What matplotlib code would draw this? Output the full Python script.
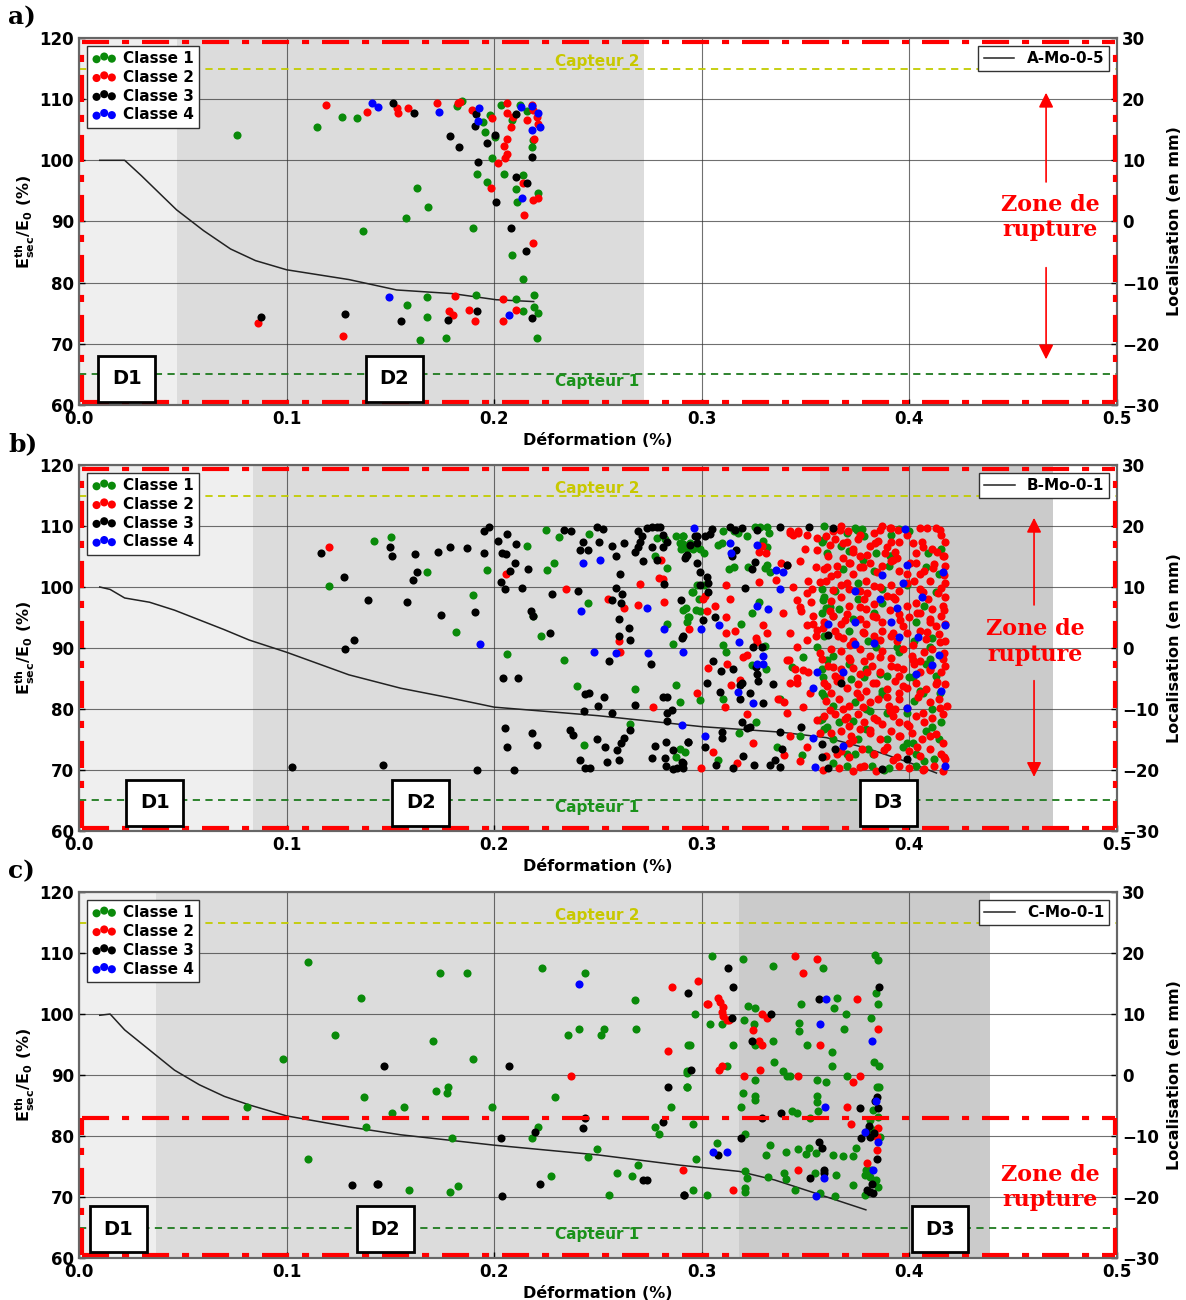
import numpy as np
import matplotlib
matplotlib.use('Agg')
import matplotlib.pyplot as plt

# ---------------- data : E_sec/E0 curves (left axis, %) ----------------
a_curve_x = [0.01, 0.022, 0.03, 0.04, 0.047, 0.06, 0.073, 0.085, 0.1, 0.13, 0.153, 0.18, 0.201, 0.219]
a_curve_y = [100, 100, 97.5, 94.2, 91.9, 88.5, 85.5, 83.6, 82.1, 80.5, 78.8, 78.2, 77.2, 76.9]
b_curve_x = [0.01, 0.015, 0.022, 0.034, 0.046, 0.058, 0.07, 0.082, 0.1, 0.13, 0.155, 0.179, 0.2, 0.25,
             0.3, 0.338, 0.36, 0.38, 0.4, 0.413]
b_curve_y = [100, 99.6, 98.2, 97.5, 96.2, 94.6, 93, 91.3, 89.3, 85.6, 83.4, 81.8, 80.3, 78.9,
             77.1, 76.2, 75.3, 73.5, 71.2, 69.5]
c_curve_x = [0.01, 0.015, 0.022, 0.034, 0.046, 0.058, 0.07, 0.082, 0.1, 0.13, 0.155, 0.2, 0.25,
             0.29, 0.318, 0.335, 0.354, 0.379]
c_curve_y = [99.8, 100, 97.4, 94.1, 90.8, 88.4, 86.5, 85.1, 83.3, 81.5, 80.2, 78.5, 76.9,
             75.2, 74.2, 72.8, 70.7, 67.9]

# ---------------- data : AE events (deformation %, localisation mm) ----------------
a_c1 = [(0.076, 14.2), (0.1145, 15.5), (0.1265, 17.0), (0.1337, 16.9), (0.1627, 5.4), (0.1683, 2.3),
        (0.1575, 0.6), (0.137, -1.6), (0.1896, -1.0), (0.1675, -12.3), (0.158, -13.7), (0.1675, -15.7),
        (0.1642, -19.4), (0.1768, -19.1), (0.191, -12.0), (0.182, 18.9), (0.1843, 19.7), (0.1915, 7.8),
        (0.1964, 6.4), (0.1988, 10.3), (0.2031, 19.0), (0.1944, 16.2), (0.1956, 14.7), (0.2004, 13.8),
        (0.198, 17.4), (0.2049, 7.7), (0.2084, -5.5), (0.2137, -9.4), (0.2105, 5.3), (0.214, 7.6),
        (0.2108, 3.2), (0.2181, 12.1), (0.2191, -12.0), (0.2105, -12.6), (0.214, -14.6), (0.2191, -14.0),
        (0.2212, -15.0), (0.2204, -19.0), (0.2212, 4.6), (0.2124, 19.0), (0.2084, 16.6), (0.2156, 18.0),
        (0.2188, 13.3)]
a_c2 = [(0.119, 19.0), (0.1385, 17.9), (0.1274, -18.7), (0.0861, -16.6), (0.153, 18.6), (0.1538, 17.8),
        (0.1586, 18.6), (0.1726, 19.3), (0.1827, 19.4), (0.1835, 19.6), (0.1894, 18.3), (0.1988, 16.9),
        (0.2017, 9.5), (0.2052, 10.3), (0.206, 11.0), (0.2049, 12.4), (0.206, 13.4), (0.208, 15.5),
        (0.2063, 17.7), (0.206, 19.4), (0.2092, 17.0), (0.2156, 16.6), (0.2188, 18.2), (0.2204, 17.1),
        (0.2212, 16.0), (0.2181, 19.0), (0.2191, 13.4), (0.1983, 5.5), (0.2137, 6.3), (0.2188, 3.5),
        (0.2212, 3.8), (0.2145, 1.1), (0.2188, -3.6), (0.2044, -12.7), (0.2105, -14.5), (0.2041, -16.2),
        (0.1907, -16.3), (0.188, -14.5), (0.1811, -12.2), (0.1784, -14.7), (0.1803, -15.3)]
a_c3 = [(0.1514, 19.4), (0.1615, 17.8), (0.1912, 17.5), (0.1908, 15.6), (0.1787, 13.9), (0.1832, 12.2),
        (0.192, 9.8), (0.1964, 12.9), (0.2004, 14.2), (0.2105, 17.6), (0.2181, 10.6), (0.2105, 7.2),
        (0.2156, 6.3), (0.2009, 3.2), (0.208, -1.0), (0.2151, -4.9), (0.0875, -15.7), (0.1282, -15.2),
        (0.1551, -16.3), (0.1779, -16.1), (0.1917, -14.6), (0.2181, -15.8)]
a_c4 = [(0.141, 19.3), (0.1442, 18.7), (0.1736, 17.9), (0.1928, 18.5), (0.192, 16.5), (0.2128, 18.7),
        (0.2181, 18.9), (0.2212, 17.8), (0.2181, 15.0), (0.222, 15.5), (0.2132, 3.8), (0.2073, -15.3),
        (0.1494, -12.3)]

b_c1 = [(0.1206, 10.1), (0.142, 17.5), (0.1503, 18.2), (0.1678, 12.5), (0.1814, 2.7), (0.1899, 8.7),
        (0.1965, 12.8), (0.206, -1.0), (0.216, 16.8), (0.2248, 19.3), (0.2314, 18.2), (0.229, 14.0),
        (0.2253, 12.8), (0.2454, 7.4), (0.2458, 18.7), (0.2338, -2.0), (0.2188, 5.2), (0.2224, 1.9),
        (0.24, -6.2), (0.243, -15.9), (0.2655, -12.4), (0.2679, -6.7), (0.2783, 18.1), (0.2823, 17.8),
        (0.2775, 15.1), (0.2831, 13.1), (0.2874, 18.4), (0.2908, 18.4), (0.2894, 17.2), (0.2899, 16.2),
        (0.2959, 16.9), (0.2927, 16.2), (0.2978, 10.3), (0.2956, 9.1), (0.2924, 6.5), (0.294, 5.1),
        (0.2972, 6.2), (0.2927, 4.2), (0.2863, 0.7), (0.2831, 4.0), (0.2876, -6.1), (0.2895, -8.8),
        (0.2876, -17.8), (0.2895, -16.6), (0.2919, -17.1),
        (0.2911, 18.4), (0.2908, 17.0), (0.2943, 17.2), (0.2959, 16.3), (0.2991, 16.3), (0.3011, 15.6),
        (0.3101, 19.2), (0.3096, 17.2), (0.3077, 16.9), (0.3155, 19.2), (0.3176, 18.9), (0.3216, 18.3),
        (0.3256, 19.9), (0.328, 19.8), (0.3312, 19.9), (0.3325, 18.8), (0.3296, 17.6), (0.3316, 16.6),
        (0.3155, 13.3), (0.3133, 12.9), (0.3224, 13.3), (0.3304, 13.1), (0.3316, 13.6), (0.3329, 12.5),
        (0.2911, 6.2), (0.2935, 5.1), (0.2991, 6.0), (0.2988, 8.0), (0.2951, 9.2), (0.3011, 10.3),
        (0.3189, 4.0), (0.324, 5.7), (0.3277, 7.6), (0.3101, 0.5), (0.3117, -0.6), (0.3304, 0.3),
        (0.324, -2.8), (0.3309, -3.5), (0.3489, -1.4), (0.3433, -3.1), (0.3377, -8.4), (0.3101, -8.4),
        (0.3181, -13.9), (0.3261, -12.1), (0.3361, -16.3), (0.2991, -8.5), (0.3481, -17.5), (0.308, -18.3),
        # dense block
        (0.359, 20.0), (0.374, 19.7), (0.377, 19.5), (0.378, 18.4), (0.391, 18.6), (0.395, 19.5), (0.400, 19.2),
        (0.358, 17.3), (0.367, 16.7), (0.371, 15.9), (0.384, 15.6), (0.391, 15.1), (0.409, 15.6), (0.415, 16.2),
        (0.368, 12.9), (0.383, 12.6), (0.390, 13.4), (0.408, 13.2), (0.414, 12.1),
        (0.358, 9.6), (0.364, 9.4), (0.375, 10.7), (0.387, 9.6), (0.399, 10.4), (0.413, 9.1),
        (0.359, 8.3), (0.360, 6.6), (0.366, 6.4), (0.375, 8.0), (0.387, 7.4), (0.407, 6.9),
        (0.358, 5.8), (0.373, 4.7), (0.383, 5.8), (0.403, 4.2),
        (0.359, 2.0), (0.371, 2.8), (0.380, 1.2), (0.402, 1.2), (0.411, 1.7),
        (0.363, -1.3), (0.384, 0.1), (0.395, -0.7), (0.410, -1.8),
        (0.358, -3.5), (0.371, -2.7), (0.379, -3.5), (0.389, -4.6), (0.408, -2.7), (0.413, -4.6),
        (0.358, -7.3), (0.372, -5.1), (0.378, -4.8), (0.387, -7.0), (0.400, -4.8), (0.405, -7.0),
        (0.359, -7.8), (0.363, -9.5), (0.374, -8.9), (0.379, -10.0), (0.387, -7.6), (0.402, -8.7), (0.411, -10.0),
        (0.358, -11.7), (0.366, -12.2), (0.373, -11.9), (0.381, -10.3), (0.389, -10.6), (0.399, -10.6),
        (0.411, -13.0), (0.415, -12.2),
        (0.359, -13.3), (0.363, -15.0), (0.375, -15.0), (0.379, -13.3), (0.389, -15.0), (0.399, -15.5),
        (0.408, -13.6), (0.414, -15.0),
        (0.363, -18.8), (0.374, -17.4), (0.380, -16.6), (0.397, -16.3), (0.403, -17.4), (0.407, -18.5),
        (0.412, -18.2), (0.370, -19.3), (0.382, -19.3), (0.403, -19.3), (0.390, -19.6),
        (0.3585, 17.7), (0.3601, 15.5), (0.3585, 7.9), (0.3618, 6.8), (0.3634, 5.2), (0.3553, 0.2),
        (0.3601, -2.0), (0.3585, -4.7), (0.3569, -11.8), (0.3601, -12.9), (0.3473, -14.5), (0.3698, 18.8),
        (0.3746, 19.3), (0.3778, 14.4), (0.3907, 15.0), (0.3939, 0.2), (0.3859, -4.2), (0.4019, -4.7),
        (0.4067, -7.4), (0.4099, 0.2), (0.4148, -7.4), (0.3698, -17.3), (0.3826, -17.3), (0.3875, -20.0),
        (0.4019, -15.6)]
b_c2 = [(0.1205, 16.6), (0.2056, 12.2), (0.2346, 9.6), (0.2547, 8.0), (0.2627, 6.5), (0.2603, 1.1),
        (0.2606, -0.6), (0.2764, -9.6), (0.2804, 14.4), (0.2796, 11.5), (0.2812, 11.3), (0.27, 10.5),
        (0.2694, 7.0), (0.2818, 7.6), (0.294, 3.1), (0.2975, -7.4),
        (0.3277, 15.8), (0.3309, 15.5), (0.3288, 16.7), (0.3379, 13.9), (0.3357, 11.1), (0.3277, 10.8),
        (0.3117, 10.3), (0.3136, 8.1), (0.3457, 7.8), (0.3476, 6.1), (0.3525, 7.6), (0.351, 11.0),
        (0.3532, 9.7), (0.355, 13.3), (0.3016, 8.5), (0.3007, 8.0), (0.3064, 6.9), (0.3024, 6.1),
        (0.3117, 5.1), (0.3117, 2.5), (0.316, 2.8), (0.3294, 3.8), (0.3316, 2.5), (0.3261, 1.7),
        (0.3268, 1.0), (0.3197, -1.4), (0.3216, -1.1), (0.3032, -3.2), (0.312, -2.6), (0.3139, -6.1),
        (0.3184, -5.2), (0.3422, -1.9), (0.3449, -3.5), (0.346, 0.1), (0.3513, -3.9), (0.3505, 3.8),
        (0.3534, 4.0), (0.3553, 2.9), (0.355, 1.9), (0.3425, -5.7), (0.3457, -5.7), (0.3398, -8.9),
        (0.3369, -8.4), (0.3216, -10.8), (0.3112, -9.6), (0.3245, -15.6), (0.3056, -17.1), (0.2995, -19.7),
        (0.3171, -18.9), (0.3396, -17.5), (0.3425, 18.8), (0.3465, 18.9), (0.3441, 18.5), (0.3553, 18.0),
        # dense block
        (0.367, 20.0), (0.375, 17.8), (0.383, 18.9), (0.387, 20.0), (0.391, 19.7), (0.391, 17.3), (0.399, 18.6),
        (0.405, 19.7), (0.413, 19.7), (0.415, 18.6), (0.417, 17.3), (0.406, 17.3),
        (0.360, 18.4), (0.364, 17.8), (0.370, 17.3), (0.373, 16.2), (0.381, 16.7), (0.385, 17.5), (0.388, 15.6),
        (0.395, 17.3), (0.394, 14.8), (0.403, 15.6), (0.411, 16.2), (0.416, 15.1), (0.361, 15.1), (0.368, 14.8),
        (0.376, 15.1),
        (0.359, 12.9), (0.365, 13.4), (0.371, 14.0), (0.376, 13.2), (0.381, 14.0), (0.387, 13.4), (0.391, 14.3),
        (0.395, 12.6), (0.403, 14.0), (0.407, 12.6), (0.412, 13.7), (0.417, 13.4), (0.362, 11.8), (0.373, 12.1),
        (0.399, 12.1),
        (0.360, 11.0), (0.367, 10.4), (0.371, 9.6), (0.379, 11.0), (0.383, 10.2), (0.391, 10.4), (0.402, 11.0),
        (0.410, 11.0), (0.415, 9.9), (0.417, 10.7), (0.376, 9.4), (0.395, 9.4), (0.405, 9.6),
        (0.362, 7.7), (0.367, 8.3), (0.371, 6.9), (0.378, 8.0), (0.383, 7.2), (0.389, 8.5), (0.393, 8.0),
        (0.399, 6.9), (0.403, 7.4), (0.409, 8.0), (0.417, 8.3), (0.416, 6.9), (0.379, 6.4), (0.411, 6.4),
        (0.363, 5.3), (0.370, 5.5), (0.376, 4.7), (0.379, 3.9), (0.384, 5.0), (0.387, 4.2), (0.395, 5.5),
        (0.400, 5.0), (0.405, 5.8), (0.410, 4.7), (0.415, 5.3), (0.417, 3.9), (0.359, 4.2), (0.367, 3.9),
        (0.397, 3.6), (0.413, 3.6),
        (0.364, 2.8), (0.368, 1.7), (0.378, 2.5), (0.383, 2.0), (0.387, 2.8), (0.391, 2.0), (0.399, 2.5),
        (0.405, 2.8), (0.408, 1.4), (0.414, 2.3), (0.417, 1.2), (0.373, 1.2), (0.394, 1.2),
        (0.362, -0.2), (0.367, -0.5), (0.371, -1.6), (0.376, -0.2), (0.381, -1.3), (0.387, -0.5), (0.391, -1.6),
        (0.397, -0.2), (0.401, -1.3), (0.407, -0.7), (0.411, -0.2), (0.416, -1.8), (0.358, -1.8), (0.378, -2.1),
        (0.405, -2.1),
        (0.361, -2.9), (0.367, -3.5), (0.373, -3.2), (0.376, -4.3), (0.382, -2.9), (0.386, -4.0), (0.391, -2.9),
        (0.397, -3.5), (0.402, -2.7), (0.405, -4.0), (0.410, -3.5), (0.415, -4.0), (0.417, -2.9), (0.364, -4.6),
        (0.395, -4.6),
        (0.359, -5.7), (0.365, -5.4), (0.370, -6.5), (0.375, -5.9), (0.379, -7.0), (0.384, -5.7), (0.389, -6.7),
        (0.393, -5.4), (0.399, -6.5), (0.403, -5.7), (0.408, -6.7), (0.413, -5.9), (0.417, -5.9), (0.362, -7.3),
        (0.395, -7.3),
        (0.360, -8.7), (0.366, -8.4), (0.371, -9.5), (0.376, -8.1), (0.381, -8.9), (0.385, -8.4), (0.390, -9.5),
        (0.395, -8.4), (0.399, -9.8), (0.404, -8.1), (0.410, -8.9), (0.414, -8.4), (0.418, -9.5), (0.368, -10.0),
        (0.393, -10.0),
        (0.359, -11.1), (0.364, -10.8), (0.369, -11.7), (0.375, -10.8), (0.378, -12.2), (0.383, -11.4),
        (0.387, -12.5), (0.392, -11.1), (0.395, -12.2), (0.403, -11.1), (0.407, -12.2), (0.411, -11.4),
        (0.416, -10.8), (0.371, -12.8), (0.400, -12.8),
        (0.362, -13.9), (0.367, -13.6), (0.372, -14.4), (0.376, -13.3), (0.381, -13.9), (0.386, -15.0),
        (0.391, -13.6), (0.395, -14.4), (0.401, -13.9), (0.406, -15.0), (0.413, -14.1), (0.416, -15.5),
        (0.371, -15.5),
        (0.360, -17.7), (0.367, -16.9), (0.371, -17.9), (0.377, -16.6), (0.383, -17.4), (0.389, -16.3),
        (0.394, -17.9), (0.400, -16.9), (0.405, -17.7), (0.410, -16.6), (0.415, -17.4), (0.417, -18.2),
        (0.366, -19.6), (0.378, -19.3), (0.384, -20.1), (0.395, -19.3), (0.400, -19.6), (0.407, -19.9),
        (0.412, -19.3), (0.416, -20.1), (0.373, -20.1),
        (0.3425, 19.1), (0.3465, 19.1), (0.3505, 18.5), (0.3634, 19.1), (0.3666, 19.3), (0.3706, 19.1),
        (0.3762, 18.5), (0.3859, 19.3), (0.3907, 19.6), (0.3947, 19.3), (0.4083, 19.6), (0.4148, 19.3),
        (0.3497, 16.3), (0.3553, 16.1), (0.3618, 16.9), (0.3682, 17.2), (0.3730, 15.8), (0.3794, 15.2),
        (0.3834, 17.2), (0.3891, 16.6), (0.3931, 15.8), (0.4019, 17.2), (0.4067, 16.6), (0.4131, 15.8),
        (0.4164, 15.0),
        (0.3409, 13.6), (0.3473, 14.2), (0.3601, 13.3), (0.3650, 12.2), (0.3714, 13.9), (0.3778, 13.3),
        (0.3843, 12.5), (0.3923, 14.4), (0.4003, 13.9), (0.4051, 12.2), (0.4115, 13.1), (0.4164, 12.0),
        (0.3441, 10.0), (0.3505, 9.0), (0.3569, 10.9), (0.3634, 9.5), (0.3698, 10.6), (0.3794, 9.0),
        (0.3859, 10.0), (0.3923, 8.4), (0.3987, 10.6), (0.4067, 9.2), (0.4139, 9.0),
        (0.3393, 5.7), (0.3473, 6.8), (0.3537, 5.2), (0.3618, 6.0), (0.3690, 4.6), (0.3762, 6.8),
        (0.3826, 5.2), (0.3907, 6.2), (0.3955, 4.6), (0.4035, 5.7), (0.4099, 4.3), (0.4164, 6.2),
        (0.3425, 2.4), (0.3505, 1.3), (0.3585, 3.2), (0.3658, 1.9), (0.3714, 0.5), (0.3778, 2.7),
        (0.3859, 1.3), (0.3923, 2.4), (0.4019, 0.5), (0.4083, 2.7), (0.4148, 1.0),
        (0.3409, -2.0), (0.3489, -3.6), (0.3569, -0.9), (0.3634, -3.1), (0.3714, -2.0), (0.3794, -3.9),
        (0.3859, -1.4), (0.3939, -3.1), (0.4019, -2.0), (0.4099, -3.6), (0.4164, -0.9),
        (0.3457, -5.0), (0.3521, -7.4), (0.3601, -6.3), (0.3666, -5.0), (0.3746, -7.4), (0.3826, -5.8),
        (0.3891, -8.0), (0.3971, -6.3), (0.4051, -7.4), (0.4131, -5.5),
        (0.3409, -10.7), (0.3489, -9.6), (0.3553, -11.8), (0.3618, -10.2), (0.3698, -11.3), (0.3778, -9.6),
        (0.3843, -11.8), (0.3907, -10.4), (0.3987, -12.4), (0.4067, -10.7), (0.4148, -9.9),
        (0.3425, -14.5), (0.3505, -16.2), (0.3569, -14.0), (0.3650, -17.3), (0.3730, -15.1), (0.3810, -13.4),
        (0.3875, -16.7), (0.3955, -14.5), (0.4035, -16.2), (0.4099, -14.5), (0.4164, -17.8),
        (0.3473, -18.6), (0.3585, -20.0), (0.3762, -19.5), (0.3923, -18.4), (0.4067, -20.0)]
b_c3 = [(0.1164, 15.5), (0.1277, 11.7), (0.1393, 7.9), (0.1325, 1.3), (0.128, -0.1), (0.1496, 16.6),
        (0.1509, 15.1), (0.1578, 7.5), (0.162, 15.4), (0.1628, 12.5), (0.161, 11.1), (0.1729, 15.8),
        (0.1789, 16.6), (0.187, 16.4), (0.1744, 5.4), (0.1906, 5.9), (0.1952, 15.5), (0.1952, 19.1),
        (0.1973, 19.9), (0.202, 17.6), (0.2039, 15.6), (0.2056, 15.4), (0.2033, 10.9), (0.2052, 9.7),
        (0.2063, 18.7), (0.2044, -5.0), (0.2054, -13.2), (0.2063, -16.2), (0.1028, -19.5), (0.1466, -19.2),
        (0.1915, -20.0),
        (0.2103, 17.0), (0.21, 13.9), (0.2076, 12.7), (0.2133, 9.9), (0.2161, 12.9), (0.2338, 19.3),
        (0.237, 19.2), (0.2278, 8.8), (0.2402, 9.3), (0.2426, 17.3), (0.2413, 16.0), (0.2454, 16.0),
        (0.2496, 19.8), (0.2522, 19.5), (0.2507, 17.3), (0.2569, 16.7), (0.2585, 15.1), (0.2627, 17.2),
        (0.2606, 12.2), (0.2587, 9.9), (0.2566, 7.9), (0.2614, 8.8), (0.2611, 7.3), (0.2603, 4.7),
        (0.2651, 3.3), (0.2603, 1.9), (0.2654, 1.3), (0.2553, -2.2), (0.2177, 6.0), (0.2185, 5.3),
        (0.2269, 2.4), (0.2116, -4.9), (0.2458, -7.3), (0.2437, -7.6), (0.2531, -8.1), (0.2499, -9.5),
        (0.243, -10.3), (0.2566, -10.7), (0.2183, -13.9), (0.2365, -13.5), (0.2378, -14.2), (0.2204, -15.9),
        (0.2494, -14.9), (0.2534, -16.2), (0.2413, -18.3), (0.2437, -19.6), (0.2461, -19.6), (0.2541, -18.7),
        (0.2095, -20.0), (0.2593, -16.8), (0.2601, -18.3), (0.2609, -15.5), (0.2627, -14.8), (0.2655, -13.4),
        (0.2679, -9.3), (0.2694, 19.1), (0.2711, 18.3), (0.2735, 19.6), (0.2759, 19.8), (0.2783, 19.8),
        (0.2799, 19.9), (0.2702, 17.4), (0.2691, 16.6), (0.2678, 15.8), (0.2718, 14.3), (0.2759, 16.5),
        (0.2783, 14.4), (0.2815, 18.5), (0.2831, 17.4), (0.2815, 16.6), (0.282, 10.5), (0.2925, 15.0),
        (0.2944, 16.9), (0.2976, 18.3), (0.2976, 17.2), (0.2899, 7.9), (0.2903, 1.7), (0.2754, -2.7),
        (0.2815, -8.1), (0.2831, -8.1), (0.2831, -10.6), (0.2858, -10.1), (0.2834, -12.0), (0.2775, -16.0),
        (0.2762, -18.1), (0.2826, -15.4), (0.286, -16.8), (0.2823, -18.1), (0.2828, -19.3), (0.2863, -19.8),
        (0.2879, -19.7), (0.2903, -18.7), (0.2911, -19.7), (0.2932, -15.4),
        (0.3048, 19.5), (0.304, 18.7), (0.3016, 18.3), (0.2967, 18.3), (0.2927, 15.2), (0.2919, 14.7),
        (0.3136, 19.9), (0.316, 19.3), (0.3192, 19.6), (0.3267, 19.3), (0.3376, 19.9), (0.3518, 19.9),
        (0.3165, 16.1), (0.3144, 15.0), (0.324, 12.9), (0.3256, 14.1), (0.3409, 13.6), (0.2979, 13.9),
        (0.2989, 12.5), (0.3024, 11.7), (0.3032, 10.7), (0.2989, 10.3), (0.3032, 9.1), (0.3206, 9.8),
        (0.2911, 1.9), (0.3004, 4.6), (0.3064, 5.0), (0.3093, -3.8), (0.3152, -3.5), (0.3056, -2.2),
        (0.3245, 0.1), (0.3288, 0.1), (0.3261, -3.1), (0.3268, -4.2), (0.3272, -5.4), (0.3184, -6.1),
        (0.3192, -5.8), (0.3088, -7.2), (0.3184, -8.3), (0.3232, -7.3), (0.3296, -9.1), (0.3345, -5.9),
        (0.3027, -5.8), (0.3192, -12.1), (0.3216, -13.2), (0.3232, -12.9), (0.3374, -13.7), (0.3476, -13.0),
        (0.3096, -13.7), (0.3096, -14.8), (0.3016, -16.3), (0.2935, -15.4), (0.2911, -18.9), (0.3068, -19.2),
        (0.3152, -19.6), (0.32, -17.7), (0.3251, -19.2), (0.3328, -19.2), (0.3353, -18.3), (0.3377, -19.5),
        (0.3385, -16.6),
        (0.363, 19.7), (0.361, 2.1), (0.367, -5.7), (0.358, -15.8), (0.364, -16.6), (0.358, -17.8),
        (0.399, -18.2), (0.361, -19.6), (0.387, -19.8)]
b_c4 = [(0.1933, 0.7), (0.2417, 6.1), (0.2429, 14.0), (0.2509, 14.5), (0.2482, -0.6), (0.2585, -0.9),
        (0.2735, 6.5), (0.2964, 19.6), (0.282, 3.1), (0.2908, -0.6), (0.2743, -0.9), (0.2903, -12.7),
        (0.3136, 17.2), (0.3139, 15.5), (0.3267, 16.9), (0.3357, 12.8), (0.3393, 12.4), (0.3374, 9.7),
        (0.3264, 6.9), (0.332, 6.4), (0.3085, 3.8), (0.2995, 3.1), (0.3181, 0.9), (0.3296, -1.3),
        (0.3268, -2.6), (0.3296, -2.6), (0.3176, -7.2), (0.3245, -9.1), (0.3016, -14.5), (0.3534, -6.6),
        (0.3537, -14.8), (0.3545, -19.5), (0.3556, -3.9),
        (0.398, 19.5), (0.387, 11.9), (0.399, 13.6), (0.416, 12.5), (0.374, 9.4), (0.397, 10.6), (0.406, 8.4),
        (0.386, 8.0), (0.394, 6.6), (0.361, 3.9), (0.374, 4.3), (0.391, 4.3), (0.417, 3.7), (0.374, 0.6),
        (0.383, 0.8), (0.395, 1.8), (0.404, 1.8), (0.414, -1.2), (0.411, -2.8), (0.368, -4.0), (0.403, -4.3),
        (0.415, -7.0), (0.399, -9.8), (0.368, -16.0), (0.417, -19.4)]

c_c1 = [(0.1105, 18.5), (0.1357, 12.7), (0.1235, 6.6), (0.0984, 2.6), (0.1374, -3.6), (0.0808, -5.3),
        (0.1382, -8.6), (0.1105, -13.8), (0.1739, 16.8), (0.1868, 16.8), (0.2232, 17.5), (0.2439, 16.8),
        (0.268, 12.3), (0.1707, 5.6), (0.1896, 2.6), (0.2354, 6.6), (0.2407, 7.6), (0.2531, 7.6),
        (0.2515, 6.6), (0.2682, 7.6), (0.2935, 4.9), (0.2927, 0.4), (0.2927, -1.9), (0.172, -2.6),
        (0.1771, -3.0), (0.1779, -1.9), (0.1567, -5.2), (0.1506, -6.3), (0.1991, -5.2), (0.2294, -3.6),
        (0.2852, -5.3), (0.2774, -8.6), (0.2795, -9.7), (0.2209, -8.6), (0.2184, -10.4), (0.1798, -10.4),
        (0.2497, -12.1), (0.2453, -13.5), (0.2694, -14.8), (0.259, -16.1), (0.2662, -16.5), (0.2272, -16.5),
        (0.1591, -18.9), (0.1787, -19.2), (0.1827, -18.2), (0.2551, -19.6),
        (0.3048, 19.5), (0.32, 19.1), (0.3345, 17.8), (0.3582, 17.5), (0.3834, 19.7), (0.385, 18.9),
        (0.3837, 13.4), (0.385, 11.6), (0.2967, 10.0), (0.304, 8.4), (0.3096, 8.3), (0.3224, 11.3),
        (0.3256, 11.0), (0.3205, 9.0), (0.3251, 8.3), (0.3256, 4.9), (0.3345, 5.6), (0.3478, 11.6),
        (0.365, 12.6), (0.3637, 11.0), (0.347, 8.5), (0.3468, 7.3), (0.3686, 7.6), (0.3693, 10.0),
        (0.3813, 9.4), (0.2943, 4.9), (0.3149, 4.9), (0.3505, 4.9), (0.3625, 3.8), (0.3625, 1.5),
        (0.3831, 2.2), (0.3854, 1.5), (0.3348, 2.2), (0.2927, 0.6), (0.293, -1.9), (0.3123, 1.5),
        (0.3256, -0.8), (0.3393, 0.6), (0.3409, -0.2), (0.3425, -0.2), (0.3557, -0.8), (0.3597, -1.1),
        (0.3698, -0.2), (0.3842, -1.9), (0.3853, -1.9), (0.32, -3.0), (0.3256, -3.5), (0.3256, -4.1),
        (0.3187, -5.3), (0.3553, -3.4), (0.3557, -4.5), (0.3558, -5.9), (0.3436, -5.9), (0.3457, -6.3),
        (0.3521, -7.0), (0.2959, -8.1), (0.3826, -5.7), (0.381, -7.4), (0.385, -6.8), (0.3826, -9.0),
        (0.3858, -10.1), (0.3207, -9.7), (0.3072, -11.1), (0.3329, -11.5), (0.331, -13.1), (0.3406, -12.7),
        (0.3465, -12.1), (0.3502, -12.9), (0.3516, -12.0), (0.355, -12.8), (0.3633, -13.1), (0.3682, -13.3),
        (0.3726, -13.2), (0.3741, -12.0), (0.3791, -15.5), (0.3814, -15.6), (0.297, -13.8), (0.3208, -15.8),
        (0.3216, -16.9), (0.3208, -18.6), (0.3208, -19.1), (0.3396, -16.1), (0.3406, -17.0), (0.332, -16.7),
        (0.3545, -16.1), (0.3646, -16.4), (0.373, -18.0), (0.3786, -16.4), (0.381, -16.7), (0.3839, -17.2),
        (0.385, -18.3), (0.2959, -18.9), (0.3024, -19.6), (0.3449, -18.9), (0.3641, -19.8), (0.357, -19.4),
        (0.3786, -19.7)]
c_c2 = [(0.2855, 14.4), (0.2839, 3.9), (0.237, -0.2), (0.2911, -15.5), (0.2983, 15.4), (0.3449, 19.5),
        (0.3557, 19.1), (0.3486, 16.8), (0.3031, 11.7), (0.3023, 11.6), (0.3079, 12.7), (0.3088, 12.0),
        (0.31, 11.2), (0.3096, 10.4), (0.3104, 9.6), (0.312, 9.0), (0.3133, 9.0), (0.3288, 10.0),
        (0.3316, 9.3), (0.3248, 7.4), (0.3277, 5.6), (0.3288, 4.9), (0.3749, 12.4), (0.357, 4.9),
        (0.3847, 7.6), (0.3085, 0.8), (0.3096, 1.5), (0.328, 0.8), (0.3205, -0.2), (0.3465, -0.2),
        (0.373, -1.1), (0.3762, -0.2), (0.3698, -5.3), (0.385, -8.7), (0.3717, -8.1), (0.3842, -12.3),
        (0.3845, -10.2), (0.3794, -14.5), (0.3465, -15.5), (0.3152, -18.8)]
c_c3 = [(0.1313, -18.0), (0.1434, -17.9), (0.2935, 13.4), (0.1471, 1.5), (0.2073, 1.5), (0.2839, -1.9),
        (0.2437, -7.0), (0.2429, -8.7), (0.2814, -7.7), (0.2196, -9.4), (0.2033, -10.4), (0.2718, -17.2),
        (0.2734, -17.2), (0.2219, -17.9), (0.1439, -17.9), (0.2036, -19.8), (0.2916, -19.6), (0.3128, 17.5),
        (0.3152, 14.5), (0.3853, 14.5), (0.3144, 9.4), (0.3332, 10.0), (0.324, 5.6), (0.3566, 12.5),
        (0.2946, 0.8), (0.329, -7.0), (0.3383, -6.3), (0.3762, -5.4), (0.3842, -3.6), (0.3834, -4.3),
        (0.385, -5.4), (0.3807, -8.4), (0.3791, -9.3), (0.3765, -10.4), (0.381, -10.1), (0.3829, -9.5),
        (0.3188, -10.4), (0.3842, -13.8), (0.3566, -11.0), (0.3578, -12.0), (0.308, -13.1), (0.3586, -15.5),
        (0.3589, -16.1), (0.3521, -16.8), (0.3818, -17.8), (0.381, -19.1), (0.3826, -19.4), (0.3794, -18.9),
        (0.2914, -19.6)]
c_c4 = [(0.2407, 15.0), (0.3598, 12.4), (0.357, 8.3), (0.3818, 5.6), (0.3594, -5.3), (0.3839, -4.3),
        (0.3786, -9.4), (0.3847, -11.0), (0.3826, -15.5), (0.3053, -12.7), (0.3123, -12.7), (0.3589, -16.8),
        (0.355, -19.8)]

specimens = ['A-Mo-0-5', 'B-Mo-0-1', 'C-Mo-0-1']
classes = ['Classe 1', 'Classe 2', 'Classe 3', 'Classe 4']
class_colors = ['#0a8a0a', '#ff0000', '#000000', '#0000ff']

# damage zones (start, end) in % deformation
a_zones = [(0.0, 0.047), (0.047, 0.272)]
b_zones = [(0.0, 0.084), (0.084, 0.357), (0.357, 0.469)]
c_zones = [(0.0, 0.037), (0.037, 0.318), (0.318, 0.439)]
zone_colors = ['#efefef', '#dcdcdc', '#cbcbcb']
zone_labels = ['D1', 'D2', 'D3']
a_dlab = [(0.0231, 64.3), (0.152, 64.3)]
b_dlab = [(0.0366, 64.6), (0.1647, 64.6), (0.3897, 64.6)]
c_dlab = [(0.0188, 64.7), (0.1474, 64.7), (0.4147, 64.7)]

bold = dict(fontweight='bold')


def draw_panel(pos, letter, cx, cy, pts, name, zones, dlabs, rect_top, zone_txt, arrows):
    ax = fig.add_axes(pos)
    ax2 = ax.twinx()
    for (z0, z1), col in zip(zones, zone_colors):
        ax.axvspan(z0, z1, color=col, lw=0, zorder=0)
    ax.plot(cx, cy, color='#222222', lw=1.1, label=name, zorder=3)
    ax.set_xlim(0, 0.5)
    ax.set_ylim(60, 120)
    ax2.set_ylim(-30, 30)
    ax.set_xticks(np.arange(0, 0.51, 0.1))
    ax.set_yticks(np.arange(60, 121, 10))
    ax2.set_yticks(np.arange(-30, 31, 10))
    ax.grid(True, color='#333333', lw=0.8, alpha=0.7, zorder=1)
    ax.set_axisbelow(True)
    for a in (ax, ax2):
        a.tick_params(direction='in', labelsize=12, length=4, width=1)
        for lab in a.get_xticklabels() + a.get_yticklabels():
            lab.set_fontweight('bold')
        for sp in a.spines.values():
            sp.set_color('#666666')
            sp.set_linewidth(1.5)
    ax.set_xticklabels(['%.1f' % v for v in np.arange(0, 0.51, 0.1)], fontweight='bold')
    ax.set_xlabel('Déformation (%)', fontsize=11.5, fontweight='bold', labelpad=4)
    ax.set_ylabel(r'$\mathbf{E_{sec}^{th}/E_0}$ (%)', fontsize=11.5, fontweight='bold', labelpad=2)
    ax2.set_ylabel('Localisation (en mm)', fontsize=11.5, fontweight='bold', labelpad=6)

    # sensors
    ax2.axhline(25, color='#c2cc00', ls=(0, (4, 3)), lw=1.3, zorder=2)
    ax2.axhline(-25, color='#1e7a1e', ls=(0, (4, 3)), lw=1.3, zorder=2)
    ax2.text(0.2495, 26.2, 'Capteur 2', color='#c8c800', ha='center', va='center', fontsize=11, **bold)
    ax2.text(0.2495, -26.2, 'Capteur 1', color='#1a921a', ha='center', va='center', fontsize=11, **bold)

    # events
    for p, col, lab in zip(pts, class_colors, classes):
        arr = np.array(p).T
        ax2.scatter(arr[0], arr[1], s=34, color=col, lw=0, label=lab, zorder=4)

    # zone de rupture frame
    dash = (0, (6.5, 3.1, 1.7, 3.1))
    x0, x1, yb = 0.0015, 0.4992, -29.5
    ax2.plot([x0, x1], [rect_top, rect_top], color='red', lw=3, ls=dash, zorder=6, clip_on=False)
    ax2.plot([x0, x1], [yb, yb], color='red', lw=3, ls=dash, zorder=6, clip_on=False)
    ax2.plot([x0, x0], [yb, rect_top], color='red', lw=3, ls=dash, zorder=6, clip_on=False)
    ax2.plot([x1, x1], [yb, rect_top], color='red', lw=3, ls=dash, zorder=6, clip_on=False)
    ax2.text(zone_txt[0], zone_txt[1], 'Zone de\nrupture', color='red', ha='center', va='center',
             fontsize=16, family='DejaVu Serif', fontweight='bold', linespacing=1.2, zorder=7)
    for (xa, y_from, y_to) in arrows:
        ax2.annotate('', xy=(xa, y_to), xytext=(xa, y_from),
                     arrowprops=dict(arrowstyle='-|>', color='red', lw=1.2, mutation_scale=22), zorder=7)

    # damage labels
    for (dx, dy), lab in zip(dlabs, zone_labels):
        ax2.text(dx, dy - 90, lab, ha='center', va='center', fontsize=14, fontweight='bold', zorder=8,
                 bbox=dict(boxstyle='square,pad=0.7', fc='white', ec='black', lw=2))

    leg1 = ax2.legend(loc='upper left', scatterpoints=3, scatteryoffsets=[0.35, 0.6, 0.4],
                      prop=dict(size=11, weight='bold'), fancybox=False, edgecolor='#333333',
                      borderpad=0.35, labelspacing=0.25, handletextpad=0.4, handlelength=1.6,
                      borderaxespad=0.5, framealpha=1)
    leg1.set_zorder(9)
    h, l = ax.get_legend_handles_labels()
    ax2.legend(h, l, loc='upper right', prop=dict(size=11, weight='bold'), fancybox=False,
               edgecolor='#333333', borderpad=0.35, handlelength=2, framealpha=1, borderaxespad=0.5)
    ax2.add_artist(leg1)
    ax.set_zorder(0)
    fig.text(0.007, pos[1] + pos[3] + 0.016, letter, fontsize=18, family='DejaVu Serif', fontweight='bold',
             va='center', ha='left')
    return ax, ax2


fig = plt.figure(figsize=(11.86, 13), dpi=100)
fig.patch.set_facecolor('white')

draw_panel([0.0666, 0.6885, 0.8753, 0.2823], 'a)', a_curve_x, a_curve_y, [a_c1, a_c2, a_c3, a_c4],
           specimens[0], a_zones, a_dlab, 29.35, (0.4677, 0.6),
           [(0.4658, 6.0, 21.5), (0.4658, -7.1, -23.0)])
draw_panel([0.0666, 0.3608, 0.8753, 0.2815], 'b)', b_curve_x, b_curve_y, [b_c1, b_c2, b_c3, b_c4],
           specimens[1], b_zones, b_dlab, 29.35, (0.4605, 1.0),
           [(0.46, 6.6, 21.8), (0.46, -4.9, -21.6)])
draw_panel([0.0666, 0.0323, 0.8753, 0.2815], 'c)', c_curve_x, c_curve_y, [c_c1, c_c2, c_c3, c_c4],
           specimens[2], c_zones, c_dlab, -7.05, (0.4677, -18.4), [])

fig.savefig('out.png', dpi=100)
